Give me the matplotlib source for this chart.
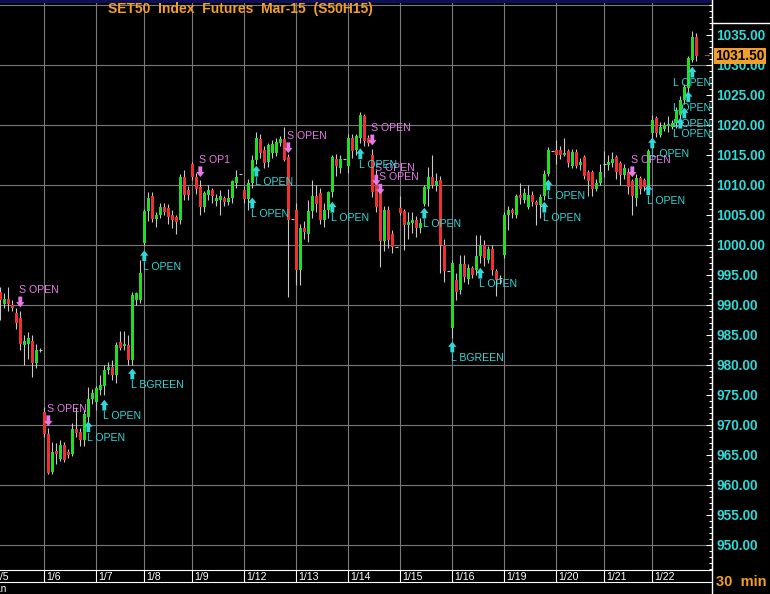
import matplotlib
matplotlib.use("Agg")
import matplotlib.pyplot as plt
import matplotlib.transforms as mtransforms
from matplotlib.lines import Line2D
from matplotlib.patches import Rectangle
import numpy as np

plt.rcParams["font.family"] = ["Liberation Sans", "DejaVu Sans"]

# ---- data (30 min bars, SET50 futures Mar-15) ----
dates = ["1/5", "1/6", "1/7", "1/8", "1/9", "1/12", "1/13", "1/14",
         "1/15", "1/16", "1/19", "1/20", "1/21", "1/22"]
day_starts = [-2, 11, 24, 36, 48, 61, 74, 87, 100, 113, 126, 139, 151, 163]

opens = [
    992.2, 990.2, 991.0, 990.0, 988.7, 987.8, 983.3, 983.5, 984.0, 980.3, 982.5,
    972.1, 968.5, 962.2, 965.6, 964.4, 966.7, 965.5, 965.2, 969.3, 968.8, 967.5, 971.4, 974.4,
    973.9, 975.8, 976.5, 979.1, 979.6, 978.3, 983.9, 983.1, 983.3, 980.8, 990.8, 990.8,
    1000.3, 1005.6, 1008.2, 1004.4, 1005.0, 1006.4, 1006.1, 1005.0, 1004.6, 1004.1, 1011.4, 1009.1,
    1013.5, 1011.4, 1009.7, 1006.4, 1008.3, 1009.2, 1007.4, 1007.5, 1007.8, 1007.2, 1007.8, 1010.3, 1011.8,
    1009.1, 1007.6, 1010.3, 1014.2, 1017.6, 1015.8, 1013.9, 1015.3, 1015.3, 1017.0, 1017.6, 1014.7, 1004.4,
    1005.8, 995.8, 1002.8, 1001.9, 1005.6, 1008.1, 1008.6, 1004.2, 1005.8, 1008.9, 1014.3, 1012.8, 1014.3,
    1013.1, 1017.8, 1015.8, 1017.8, 1021.5, 1017.8, 1015.0, 1011.4, 1009.2, 1000.6, 1005.8, 1001.9, 999.7,
    1006.1, 1005.6, 1003.3, 1003.6, 1004.2, 1002.8, 1006.9, 1009.4, 1011.3, 1009.8, 1010.8, 1000.0, 995.6,
    986.2, 994.2, 992.5, 996.9, 994.4, 996.1, 995.8, 998.1, 1000.0, 997.5, 999.4, 995.6, 994.5,
    998.3, 1005.0, 1005.8, 1005.0, 1008.3, 1007.5, 1006.4, 1008.3, 1007.2, 1006.7, 1008.1, 1011.9, 1015.6,
    1015.8, 1015.8, 1015.0, 1015.6, 1013.1, 1015.5, 1013.3, 1014.7, 1012.1, 1012.1, 1009.4, 1010.3,
    1013.5, 1013.3, 1013.6, 1014.7, 1013.6, 1011.7, 1012.2, 1010.6, 1007.8, 1011.1, 1010.8, 1009.4,
    1018.6, 1021.1, 1018.3, 1019.4, 1019.8, 1019.7, 1020.3, 1021.7, 1024.2, 1026.1, 1030.8, 1034.7,
]
highs = [
    993.0, 992.0, 993.0, 990.8, 989.5, 989.0, 985.0, 985.5, 985.0, 983.5, 982.8,
    973.0, 969.5, 967.2, 967.0, 967.5, 967.2, 966.0, 970.3, 973.0, 969.5, 972.5, 976.4, 976.0,
    976.5, 978.3, 980.0, 980.5, 980.8, 983.9, 985.6, 985.6, 985.0, 992.2, 992.2, 997.5,
    1006.0, 1008.9, 1008.9, 1005.5, 1007.0, 1007.0, 1006.8, 1005.8, 1005.0, 1011.9, 1012.5, 1009.8,
    1013.9, 1012.0, 1010.8, 1009.0, 1010.0, 1009.5, 1008.5, 1009.2, 1008.2, 1009.3, 1010.8, 1012.5, 1011.8,
    1009.8, 1011.0, 1015.0, 1018.9, 1018.5, 1016.5, 1017.0, 1017.5, 1017.8, 1018.2, 1019.7, 1015.2, 1004.4,
    1007.0, 1003.5, 1004.0, 1007.5, 1010.8, 1010.0, 1009.5, 1007.0, 1009.0, 1015.0, 1015.2, 1015.0, 1014.3,
    1018.5, 1018.5, 1018.5, 1022.1, 1021.8, 1018.3, 1016.0, 1012.5, 1010.0, 1006.5, 1006.5, 1002.5, 999.7,
    1008.1, 1006.0, 1005.5, 1005.5, 1004.8, 1004.5, 1010.0, 1013.0, 1015.0, 1012.0, 1011.5, 1001.0, 995.6,
    997.5, 995.3, 998.3, 998.3, 996.8, 996.5, 1001.7, 1001.7, 1000.8, 999.8, 1000.0, 996.0, 995.0,
    1005.5, 1006.5, 1006.2, 1008.5, 1010.3, 1009.5, 1010.0, 1009.0, 1007.5, 1008.5, 1012.5, 1016.4, 1015.6,
    1017.5, 1016.5, 1017.8, 1016.0, 1016.0, 1016.0, 1014.5, 1015.0, 1012.5, 1012.5, 1011.0, 1013.5,
    1015.6, 1015.0, 1015.5, 1015.0, 1014.0, 1013.5, 1012.8, 1011.0, 1011.8, 1011.5, 1011.2, 1016.0,
    1021.7, 1021.5, 1020.5, 1020.5, 1021.5, 1020.8, 1023.0, 1024.8, 1026.8, 1031.5, 1035.6, 1035.3,
]
lows = [
    987.5, 989.5, 989.0, 989.0, 986.0, 982.5, 980.0, 981.0, 978.0, 979.5, 982.2,
    968.0, 961.8, 961.8, 963.5, 964.0, 963.8, 964.5, 964.8, 968.0, 966.5, 966.5, 970.5, 973.5,
    972.5, 975.0, 975.0, 978.5, 977.5, 977.0, 982.5, 982.5, 980.0, 980.0, 990.0, 990.3,
    1000.0, 1004.0, 1003.8, 1003.0, 1004.5, 1005.0, 1003.5, 1002.8, 1001.9, 1003.5, 1007.5, 1007.5,
    1010.8, 1008.5, 1005.0, 1005.5, 1007.5, 1007.0, 1006.5, 1005.0, 1006.5, 1006.7, 1007.0, 1009.5, 1011.8,
    1007.0, 1005.8, 1009.5, 1013.5, 1014.5, 1012.8, 1013.0, 1014.5, 1014.8, 1016.5, 1014.0, 991.4, 1004.4,
    993.3, 993.3, 1001.0, 1000.5, 1004.5, 1005.5, 1003.5, 1003.0, 1004.5, 1008.0, 1011.5, 1012.0, 1014.3,
    1012.0, 1014.5, 1015.0, 1017.0, 1016.5, 1016.5, 1008.0, 1005.5, 996.4, 999.0, 999.5, 998.6, 999.7,
    1005.0, 999.2, 1001.0, 1002.0, 1001.4, 1002.0, 1006.5, 1006.5, 1009.5, 1009.0, 995.3, 993.9, 995.6,
    984.5, 990.8, 991.9, 993.9, 993.5, 994.5, 995.0, 997.0, 996.5, 997.0, 995.0, 991.5, 993.5,
    997.8, 1002.5, 1004.5, 1004.5, 1006.9, 1007.0, 1006.0, 1006.5, 1003.3, 1004.5, 1007.5, 1011.5, 1015.6,
    1013.5, 1014.4, 1014.8, 1013.0, 1012.8, 1012.8, 1012.5, 1011.0, 1008.1, 1008.1, 1009.0, 1010.0,
    1011.4, 1012.5, 1013.0, 1011.0, 1010.0, 1011.0, 1008.5, 1005.0, 1006.5, 1008.5, 1009.0, 1009.0,
    1017.5, 1018.0, 1018.0, 1019.0, 1018.9, 1019.3, 1019.5, 1021.0, 1023.5, 1025.5, 1030.5, 1030.6,
]
closes = [
    990.8, 991.0, 990.2, 989.5, 987.0, 983.5, 984.0, 984.5, 980.3, 982.5, 982.5,
    968.5, 962.0, 965.5, 965.2, 966.7, 964.2, 965.0, 969.3, 968.6, 967.5, 971.8, 974.4, 975.3,
    976.1, 976.7, 979.2, 979.6, 978.3, 983.3, 982.8, 983.5, 980.8, 991.7, 992.0, 995.3,
    1005.6, 1007.9, 1004.4, 1005.0, 1006.4, 1005.5, 1004.6, 1004.2, 1003.9, 1011.4, 1008.3, 1008.3,
    1011.4, 1009.3, 1006.4, 1008.6, 1009.2, 1008.1, 1007.8, 1008.1, 1007.2, 1007.8, 1010.6, 1011.4, 1011.8,
    1007.7, 1010.4, 1014.2, 1017.8, 1015.3, 1013.7, 1016.7, 1016.9, 1017.2, 1017.6, 1014.2, 1004.2, 1004.4,
    995.8, 1002.8, 1002.2, 1005.6, 1008.1, 1006.9, 1004.2, 1005.8, 1008.9, 1014.7, 1013.1, 1014.3, 1014.3,
    1017.8, 1015.6, 1018.1, 1021.7, 1017.3, 1017.0, 1008.9, 1006.4, 1000.6, 1005.8, 1000.8, 999.7, 999.7,
    1005.3, 1003.3, 1003.9, 1004.2, 1002.8, 1003.6, 1009.6, 1011.3, 1010.0, 1010.6, 1000.0, 995.6, 995.6,
    997.0, 992.2, 996.9, 994.7, 996.1, 995.0, 998.1, 1000.0, 997.8, 999.4, 995.8, 994.2, 994.5,
    1005.0, 1005.8, 1005.3, 1008.1, 1007.8, 1008.7, 1008.3, 1007.2, 1006.7, 1008.0, 1011.9, 1015.8, 1015.6,
    1015.0, 1015.0, 1015.4, 1013.6, 1015.5, 1013.1, 1013.9, 1011.5, 1010.6, 1009.4, 1010.3, 1012.2,
    1013.5, 1013.9, 1014.4, 1012.2, 1011.7, 1012.8, 1009.7, 1008.1, 1011.1, 1009.4, 1009.6, 1015.6,
    1020.8, 1018.6, 1019.7, 1020.0, 1020.2, 1020.3, 1022.5, 1024.2, 1026.4, 1031.1, 1034.7, 1031.5,
]

# trade signals: bar index, price level of the arrow, label
short_bars = [5, 12, 50, 72, 93, 94, 95, 158]
short_prices = [990.5, 970.7, 1012.2, 1016.2, 1017.5, 1010.8, 1009.3, 1012.2]
short_labels = ["S OPEN", "S OPEN", "S OP1", "S OPEN", "S OPEN", "S OPEN", "S OPEN", "S OPEN"]

long_bars = [22, 26, 33, 36, 63, 64, 83, 90, 106, 113, 120, 136, 137, 162, 163, 170, 171, 172, 173]
long_prices = [969.7, 973.3, 978.5, 998.2, 1007.0, 1012.3, 1006.3, 1015.2, 1005.3, 983.0,
               995.3, 1006.3, 1010.0, 1009.2, 1017.0, 1020.3, 1022.0, 1024.7, 1028.8]
long_labels = ["L OPEN", "L OPEN", "L BGREEN", "L OPEN", "L OPEN", "L OPEN", "L OPEN", "L OPEN",
               "L OPEN", "L BGREEN", "L OPEN", "L OPEN", "L OPEN", "L OPEN", "L OPEN",
               "L OPEN", "L OPEN", "L OPEN", "L OPEN"]

price_ticks = list(range(950, 1036, 5))
title = "SET50  Index  Futures  Mar-15  (S50H15)"
last_price = closes[-1]

# ---- layout / style ----
W, H = 770, 594
PLOT_R, PLOT_B = 712, 570
BG = "black"
GRID = "#7a7a7a"
UP = "#22dd22"
DOWN = "#ee3030"
WICK = "#c8c8c8"
CYAN = "#30d8d8"
PINK = "#e67ae6"
ORANGE = "#f0a028"


def fy(y):
    # pixel row from top -> figure fraction
    return 1 - y / H


fig = plt.figure(figsize=(W / 100, H / 100), dpi=100, facecolor=BG)
ax = fig.add_axes([0, (H - PLOT_B) / H, PLOT_R / W, PLOT_B / H], facecolor=BG)
ax.set_xlim(-0.075, 177.925)
ax.set_ylim(945.83, 1040.83)

for v in range(950, 1041, 10):
    ax.axhline(v, color=GRID, lw=0.8, zorder=1)
for s in day_starts[1:]:
    ax.axvline(s, color=GRID, lw=0.8, zorder=1)

# candles
o = np.array(opens)
h = np.array(highs)
l = np.array(lows)
c = np.array(closes)
idx = np.arange(len(o))
ax.vlines(idx, l, h, color=WICK, lw=0.8, zorder=2)
body = np.abs(c - o)
solid = body >= 0.15
cols = np.where(c >= o, UP, DOWN)
ax.bar(idx[solid], body[solid], bottom=np.minimum(o, c)[solid], width=0.78,
       color=cols[solid], linewidth=0, zorder=3)
ax.hlines(c[~solid], idx[~solid] - 0.45, idx[~solid] + 0.45, color=WICK, lw=0.8, zorder=3)


def draw_signal(bar, price, label, is_long):
    col = CYAN if is_long else PINK
    d = 0.9
    tail, tip = (price - d, price + d) if is_long else (price + d, price - d)
    ax.annotate("", xy=(bar, tip), xytext=(bar, tail), zorder=5,
                arrowprops=dict(arrowstyle="simple,head_length=3.8,head_width=6.0,tail_width=2.8",
                                mutation_scale=1, color=col, shrinkA=0, shrinkB=0, linewidth=0))
    tx = min(bar - 0.4, 168.2)
    ty = price - 1.8 if is_long else price + 2.0
    ax.text(tx, ty, label, color=col, fontsize=7.6, ha="left", va="center", zorder=6)


for b, p, t in zip(short_bars, short_prices, short_labels):
    draw_signal(b, p, t, False)
for b, p, t in zip(long_bars, long_prices, long_labels):
    draw_signal(b, p, t, True)

# right price axis
ax.yaxis.tick_right()
ax.set_yticks(price_ticks)
ax.set_yticklabels([f"{v:.2f}" for v in price_ticks], fontweight="bold")
ax.set_yticks(np.arange(946, 1041, 1), minor=True)
ax.tick_params(axis="y", which="major", direction="in", length=4, width=0.8,
               color="white", labelcolor=CYAN, labelsize=9.8, pad=3)
ax.tick_params(axis="y", which="minor", direction="in", length=2.5, width=0.8, color="white")
ax.set_xticks([])
for side in ["left", "top", "bottom"]:
    ax.spines[side].set_visible(False)
ax.spines["right"].set_color("white")

# last price marker
blend = mtransforms.blended_transform_factory(ax.transAxes, ax.transData)
ax.text(715.5 / PLOT_R, last_price, f"{last_price:.2f}", transform=blend, color="black",
        fontsize=9.8, fontweight="bold", ha="left", va="center", clip_on=False, zorder=10,
        bbox=dict(boxstyle="square,pad=0.1", fc=ORANGE, ec="none"))
ax.text(175.4, last_price, "\u2192", color=ORANGE, fontsize=6, ha="left", va="center", zorder=6)

# date strip
dax = fig.add_axes([0, (H - 582) / H, PLOT_R / W, 12 / H], facecolor=BG)
dax.set_xlim(ax.get_xlim())
dax.set_ylim(0, 1)
dax.set_xticks([])
dax.set_yticks([])
for side in ["left", "right"]:
    dax.spines[side].set_visible(False)
for side in ["top", "bottom"]:
    dax.spines[side].set_color("white")
for s, d in zip(day_starts, dates):
    dax.axvline(s, color="white", lw=0.8)
    dax.text(s + 0.45, 0.45, d, color="white", fontsize=7.6, ha="left", va="center", clip_on=False)

# frame lines and labels
fig.add_artist(Line2D([PLOT_R / W, PLOT_R / W], [0, 1], transform=fig.transFigure, color="white", lw=1))
fig.add_artist(Line2D([PLOT_R / W, 1], [fy(23), fy(23)], transform=fig.transFigure, color="white", lw=1))
fig.add_artist(Rectangle((0, fy(2.5)), PLOT_R / W, 2.5 / H, transform=fig.transFigure,
                         color="#10105a", lw=0))
fig.text(108 / W, fy(9), title, color=ORANGE, fontsize=10, fontweight="bold", ha="left", va="center")
fig.text(716 / W, fy(582), "30  min", color=ORANGE, fontsize=10.5, fontweight="bold", ha="left", va="center")
fig.text(7 / W, fy(589), "Jan", color="white", fontsize=7.3, ha="right", va="center")

fig.savefig("out.png", dpi=100, facecolor=BG)
